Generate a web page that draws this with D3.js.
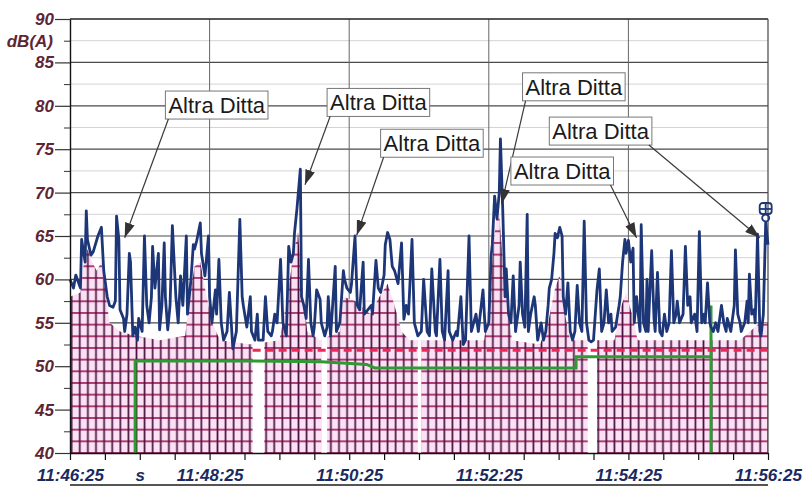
<!DOCTYPE html>
<html>
<head>
<meta charset="utf-8">
<script src="https://cdn.jsdelivr.net/npm/d3@7"></script>
<style>
  body { margin: 0; background: #fff; }
  svg { display: block; }
</style>
</head>
<body>
<svg id="chart" width="803" height="490"></svg>
<script>
// ---- data (seconds from 11:46:25, dB(A)) ----
var timeTickLabels = { 0: "11:46:25", 60: "s", 120: "11:48:25", 240: "11:50:25", 360: "11:52:25", 480: "11:54:25", 600: "11:56:25" };
var levelTicks = [40, 45, 50, 55, 60, 65, 70, 75, 80, 85, 90];

// measured noise level (blue)
var levelData = [
  [0,60],[3,59],[5,60.5],[9,59],[10,64.6],[13,62],[14,67.9],[15,64.6],[18,62.8],[20,63.2],[24,65],[27,66],[29,61],[32,58],[34,57],[37,56.8],[39,57.5],[40,67.3],[42,64.6],[43,56.5],[46,55.5],[47,54],[49,56],[51,63],[52,62],[54,53.5],[56,54.5],[58,53],[59,55.5],[62,54],[64,65],[66,57],[68,55],[70,58],[71,63.8],[73,59],[76,63],[77,54.2],[79,57],[81,64.2],[82,58],[84,54.2],[86,57],[88,66.2],[91,58],[93,55],[95,60.4],[97,57],[100,65],[101,56],[104,60],[106,64],[107,63.5],[109,64.5],[112,66.5],[113,63],[116,60.4],[119,65],[120,58],[122,55],[125,58.8],[126,56],[128,62.3],[130,55],[132,53],[135,54],[137,58.5],[140,52],[143,54],[146,66.9],[148,58],[149,57],[152,54.5],[155,58],[156,54],[159,53],[161,56],[162,53],[166,53],[168,58],[170,54],[173,53.5],[174,54],[176,56],[178,55],[181,62.3],[183,55],[186,53.5],[188,63.8],[190,62],[192,63],[193,65.4],[195,68],[198,72.7],[199,58],[201,57],[203,55.5],[205,62.3],[207,55],[209,53.5],[210,54.5],[212,58.8],[215,57.7],[216,55],[219,53.5],[221,54.5],[222,58],[224,53.5],[228,61.5],[229,54],[232,55],[235,61],[236,60],[238,59],[241,58.5],[242,59.5],[245,65],[247,57],[249,56.5],[252,62],[253,56],[256,56.5],[259,57],[260,56],[263,62.2],[265,59],[267,58.5],[270,60.5],[271,64],[273,65.4],[275,64.6],[277,61.5],[279,61],[282,59.5],[285,64.2],[287,55.4],[289,57],[291,56],[294,64.6],[296,55],[299,53.5],[302,54],[304,60],[307,54],[309,53.5],[311,61.2],[314,54],[315,53.5],[318,62.3],[320,54],[322,53],[325,61],[326,54],[329,53],[332,54],[333,53.5],[336,58],[338,52.5],[340,53],[343,65],[345,54],[347,55],[349,56],[351,54],[355,58.8],[357,54],[360,55],[362,62.7],[363,64],[365,69.6],[367,67],[369,70],[370,76.2],[372,68],[374,58],[375,61.2],[377,56],[379,55],[381,60.4],[383,54],[386,57],[387,62],[389,56],[391,54.5],[393,67.5],[394,54],[396,56],[399,58],[400,57],[402,53],[405,55],[407,53],[409,54],[411,57],[412,59],[414,60],[416,63],[417,65.3],[419,64.8],[421,66],[423,65],[424,58],[426,56],[428,59.6],[430,54],[432,53],[434,54],[436,59.3],[438,55],[440,54],[442,66.7],[444,55],[446,53],[448,52.8],[450,53],[453,58.8],[455,61.2],[457,54],[459,55],[461,58.8],[463,55],[465,56],[466,54],[469,54.5],[472,57],[473,58],[475,62],[477,64.6],[478,63],[480,64.5],[482,62],[484,63.6],[485,55],[487,58],[490,54],[491,66.3],[493,55],[495,54],[496,60],[497,54],[500,63.3],[502,55.5],[503,54],[505,60.8],[507,54],[509,53.5],[511,56],[513,54],[515,55],[517,63.3],[519,55],[521,56],[522,57.5],[524,55],[527,56],[529,63.8],[531,57],[533,58],[534,55],[537,56],[539,54],[541,65.5],[543,55],[545,56],[546,55],[548,59.6],[550,55],[551,54.5],[553,54],[555,55],[557,54],[560,57],[562,55],[564,54],[565,55.5],[568,54],[570,56],[571,57],[572,63.4],[574,56],[576,55],[577,54],[580,55],[582,57.5],[583,55],[584,60.6],[586,56],[588,56.5],[589,55],[591,65.2],[593,54],[594,53.5],[596,56],[598,66.5],[600,64]
];

// hatched background envelope (pink)
var envelopeData = [
  [0,58],[9,58.5],[12,62],[15,63.5],[19,62],[23,61],[27,62],[31,58],[34,55],[43,54],[56,53.5],[77,53],[99,53.5],[103,58],[107,61.5],[112,62],[116,59],[122,55],[129,53],[155,52.5],[180,53],[187,58],[192,63],[196,65.5],[199,60],[204,54],[215,53],[232,54],[235,58],[245,57.5],[258,56],[266,58],[273,59.5],[279,57],[285,54],[292,53],[356,53],[361,58],[364,64],[368,69],[371,64],[375,58],[380,53],[404,52.5],[411,55],[417,59],[421,60.5],[424,57],[430,53],[468,53],[474,57],[478,58.5],[483,56],[488,53],[576,53],[593,55],[600,55]
];

// white breaks in the hatched area (start, end seconds)
var gapSpans = [[157,167],[216,221],[299,302],[445,453]];

// reference level (red dashed) and background level (green)
var refLevel = 52;
var refStart = 157;
var backgroundData = [
  [56,40],[56,50.6],[159,50.6],[216,50.5],[255,50.2],[262,49.8],[435,49.8],[435,51.1],[551,51.1],[551,57],[551,40]
];

// annotations "Altra Ditta"
var noteText = "Altra Ditta";
var noteBoxTime = [82, 221, 267, 389, 379, 412];
var noteBoxLevel = [81.7, 82.0, 77.3, 83.8, 74.1, 78.7];
var noteTipTime = [47, 202, 246.5, 371, 487, 593];
var noteTipLevel = [64.8, 70.9, 65.1, 68.7, 64.8, 64.8];

// ---- layout ----
var margin = { top: 19, right: 35, bottom: 37, left: 70 },
  width = 803 - margin.left - margin.right,
  height = 490 - margin.top - margin.bottom;

var x = d3.scaleLinear().domain([0, 600]).range([0, width]);
var y = d3.scaleLinear().domain([40, 90]).range([height, 0]);

var root = d3.select("#chart");
var defs = root.append("defs");

// hatch pattern: pink with dark crossing lines
var pat = defs.append("pattern")
  .attr("id", "hatch")
  .attr("patternUnits", "userSpaceOnUse")
  .attr("width", 8.1).attr("height", 11.67)
  .attr("x", 1.7 - 4.05).attr("y", height - 5.835);
pat.append("rect").attr("width", 8.1).attr("height", 11.67).attr("fill", "#fbe1f4");
pat.append("line").attr("x1", 0).attr("x2", 8.1).attr("y1", 5.835).attr("y2", 5.835)
  .attr("stroke", "#a5215f").attr("stroke-width", 1.7);
pat.append("line").attr("x1", 4.05).attr("x2", 4.05).attr("y1", 0).attr("y2", 11.67)
  .attr("stroke", "#4a123e").attr("stroke-width", 1.7);

defs.append("marker")
  .attr("id", "arrow")
  .attr("markerUnits", "userSpaceOnUse")
  .attr("markerWidth", 15).attr("markerHeight", 10)
  .attr("refX", 15).attr("refY", 5)
  .attr("orient", "auto")
  .append("path").attr("d", "M0,0 L15,5 L0,10 Z").attr("fill", "#333");

var svg = root.append("g")
  .attr("transform", "translate(" + margin.left + "," + margin.top + ")");

// grid
svg.selectAll(".minor").data(d3.range(42.5, 90, 5)).enter().append("line")
  .attr("x1", 0).attr("x2", width)
  .attr("y1", function(d) { return y(d); }).attr("y2", function(d) { return y(d); })
  .attr("stroke", "#d4d4d4").attr("stroke-width", 1);
svg.selectAll(".major").data(d3.range(45, 90, 5)).enter().append("line")
  .attr("x1", 0).attr("x2", width)
  .attr("y1", function(d) { return y(d); }).attr("y2", function(d) { return y(d); })
  .attr("stroke", "#4a4a4a").attr("stroke-width", 1.2);
svg.selectAll(".vgrid").data([120, 240, 360, 480]).enter().append("line")
  .attr("x1", function(d) { return x(d); }).attr("x2", function(d) { return x(d); })
  .attr("y1", 0).attr("y2", height)
  .attr("stroke", "#666").attr("stroke-width", 1);

// hatched area
var area = d3.area()
  .x(function(d) { return x(d[0]); })
  .y0(height)
  .y1(function(d) { return y(d[1]); });
svg.append("path").datum(envelopeData)
  .attr("d", area)
  .attr("fill", "url(#hatch)");

svg.selectAll(".gap").data(gapSpans).enter().append("rect")
  .attr("x", function(d) { return x(d[0]); })
  .attr("width", function(d) { return x(d[1]) - x(d[0]); })
  .attr("y", y(54)).attr("height", height - y(54))
  .attr("fill", "#fff");

// frame
svg.append("line").attr("x1", 0).attr("x2", width).attr("y1", 0).attr("y2", 0)
  .attr("stroke", "#222").attr("stroke-width", 1.4);
svg.append("line").attr("x1", width).attr("x2", width).attr("y1", 0).attr("y2", height)
  .attr("stroke", "#444").attr("stroke-width", 1.2);

// green background level
var line = d3.line()
  .x(function(d) { return x(d[0]); })
  .y(function(d) { return y(d[1]); });
svg.append("path").datum(backgroundData)
  .attr("d", line)
  .attr("fill", "none").attr("stroke", "#2f9a33").attr("stroke-width", 3);

// red dashed reference
svg.append("line")
  .attr("x1", x(refStart)).attr("x2", x(600))
  .attr("y1", y(refLevel) + 1.5).attr("y2", y(refLevel) + 1.5)
  .attr("stroke", "#ec2a55").attr("stroke-width", 3)
  .attr("stroke-dasharray", "8,5");

// blue level
svg.append("path").datum(levelData)
  .attr("d", line)
  .attr("fill", "none").attr("stroke", "#1d3678").attr("stroke-width", 2.8)
  .attr("stroke-linejoin", "round");

// end marker glyph
var mk = svg.append("g")
  .attr("transform", "translate(" + x(598) + "," + (y(66.5) - 20) + ")")
  .attr("fill", "none").attr("stroke", "#1d3678").attr("stroke-width", 1.8);
mk.append("rect").attr("x", -6).attr("y", 0).attr("width", 12).attr("height", 11).attr("rx", 3);
mk.append("line").attr("x1", 0).attr("x2", 0).attr("y1", 0).attr("y2", 11);
mk.append("line").attr("x1", -6).attr("x2", 6).attr("y1", 6).attr("y2", 6);
mk.append("circle").attr("cx", 0).attr("cy", 15).attr("r", 3.5);

// axes
var xAxis = d3.axisBottom(x)
  .tickValues(d3.range(0, 601, 30))
  .tickSize(7).tickSizeOuter(0).tickPadding(9)
  .tickFormat(function(d) { return timeTickLabels[d] || ""; });
var gx = svg.append("g").attr("transform", "translate(0," + height + ")").call(xAxis);
gx.select(".domain").attr("stroke", "#111").attr("stroke-width", 1.4);
gx.selectAll(".tick line").attr("stroke", "#111").attr("stroke-width", 1.2);
gx.selectAll("text")
  .attr("fill", "#1b2a5e")
  .style("font", "italic bold 17px 'Liberation Sans', Arial, sans-serif");

var yMinor = d3.axisLeft(y)
  .tickValues(d3.range(42.5, 90, 5))
  .tickSize(6).tickSizeOuter(0).tickFormat("");
var gym = svg.append("g").call(yMinor);
gym.select(".domain").remove();
gym.selectAll(".tick line").attr("stroke", "#333");

var yAxis = d3.axisLeft(y)
  .tickValues(levelTicks)
  .tickSize(15).tickSizeOuter(0).tickPadding(1);
var gy = svg.append("g").call(yAxis);
gy.select(".domain").attr("stroke", "#111").attr("stroke-width", 1.4);
gy.selectAll(".tick line").attr("stroke", "#333").attr("stroke-width", 1.2);
gy.selectAll("text")
  .attr("fill", "#5e2535")
  .style("font", "italic bold 17px 'Liberation Sans', Arial, sans-serif");

svg.append("text")
  .attr("x", -17).attr("y", y(87.5)).attr("dy", "0.35em")
  .attr("text-anchor", "end")
  .attr("fill", "#5e2535")
  .style("font", "italic bold 17px 'Liberation Sans', Arial, sans-serif")
  .text("dB(A)");

// bottom rule
svg.append("line").attr("x1", 0).attr("x2", width)
  .attr("y1", height + 32).attr("y2", height + 32)
  .attr("stroke", "#555").attr("stroke-width", 2);

// annotations
noteBoxTime.forEach(function(t, i) {
  var bx = x(t), by = y(noteBoxLevel[i]);
  var g = svg.append("g");
  var rect = g.append("rect").attr("fill", "#fff").attr("stroke", "#777").attr("stroke-width", 1);
  var txt = g.append("text")
    .attr("x", bx + 3).attr("y", by + 22)
    .attr("fill", "#1a1a1a")
    .style("font", "22px 'Liberation Sans', Arial, sans-serif")
    .text(noteText);
  var w = txt.node().getComputedTextLength() + 6;
  rect.attr("x", bx).attr("y", by).attr("width", w).attr("height", 28);
  var tx = x(noteTipTime[i]), ty = y(noteTipLevel[i]);
  var sx = tx < bx + w / 2 ? bx + 3 : bx + w - 3;
  svg.append("line")
    .attr("x1", sx).attr("y1", by + 28)
    .attr("x2", tx).attr("y2", ty)
    .attr("stroke", "#3a3a3a").attr("stroke-width", 1.2)
    .attr("marker-end", "url(#arrow)");
});
</script>
</body>
</html>
